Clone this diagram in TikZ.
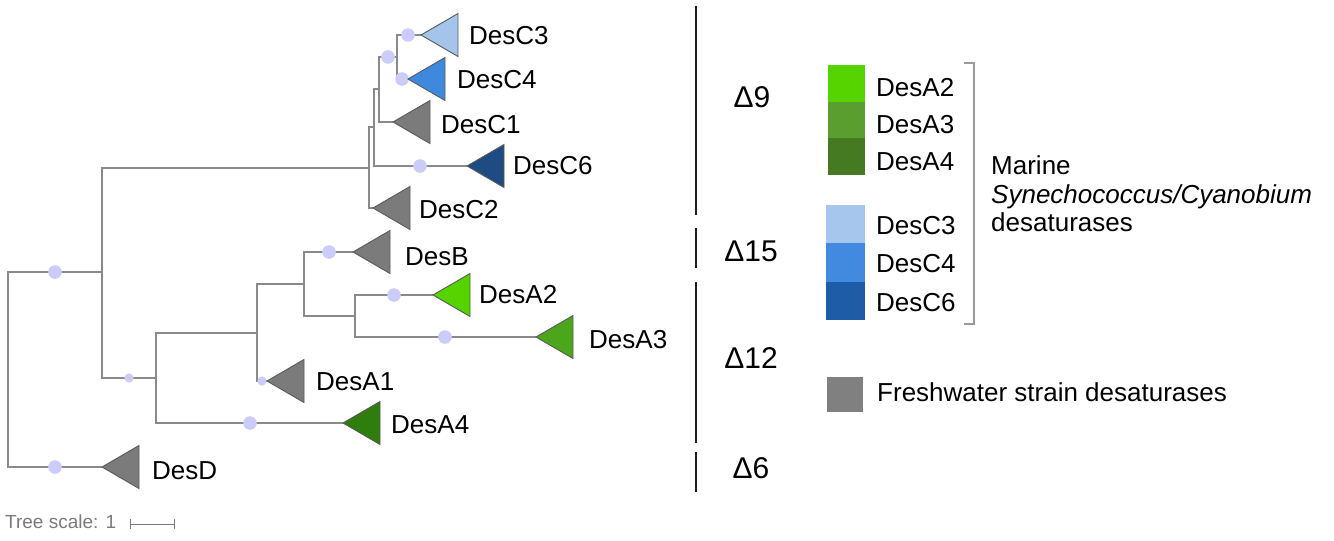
\documentclass[tikz,border=0pt]{standalone}
\usepackage{fontspec}
\setmainfont{Liberation Sans}
\definecolor{treegray}{HTML}{8A8A8A}
\definecolor{tridraw}{HTML}{5A5A5A}
\definecolor{cladegray}{HTML}{7B7B7B}
\definecolor{dotfill}{RGB}{204,204,250}
\definecolor{cthree}{HTML}{A4C4EC}
\definecolor{cfour}{HTML}{3E88DE}
\definecolor{csix}{HTML}{1D4B82}
\definecolor{atwo}{HTML}{55D400}
\definecolor{athree}{HTML}{4CA61C}
\definecolor{afour}{HTML}{2F7D0C}
\definecolor{legatwo}{HTML}{55D400}
\definecolor{legathree}{HTML}{5A9E2F}
\definecolor{legafour}{HTML}{467A22}
\definecolor{legcthree}{HTML}{A6C6EE}
\definecolor{legcfour}{HTML}{428AE0}
\definecolor{legcsix}{HTML}{1F5CA8}
\definecolor{leggray}{HTML}{808080}
\definecolor{bracketgray}{HTML}{9A9A9A}
\definecolor{scalegray}{HTML}{7A7A7A}
% collapsed clade: triangle with its tip on the named leaf point
\newcommand\cladetri[2]{%
  \filldraw[fill=#2, draw=tridraw, line width=0.9pt] (#1) -- ++(37,-21.5) -- ++(0,43) -- cycle;}
\begin{document}
\begin{tikzpicture}[x=1pt, y=-1pt,
  branch/.style={draw=treegray, line width=1.7pt},
  supdot/.style={fill=dotfill},
  lab/.style={anchor=west, inner sep=0pt, font=\fontsize{26}{30}\selectfont},
  dlab/.style={anchor=center, inner sep=0pt, font=\fontsize{30}{34}\selectfont},
  sepline/.style={draw=black!88, line width=2pt},
  legsq/.style={draw=none}]
\useasboundingbox (0,0) rectangle (1334,541);

% internal nodes of the tree
\coordinate (root) at (8,370);
\coordinate (n1) at (102,272);
\coordinate (n2) at (156,378);
\coordinate (n3) at (257,333);
\coordinate (n4) at (304,284);
\coordinate (n5) at (355,316);
\coordinate (nc) at (369,168);
\coordinate (n6) at (374,127);
\coordinate (n7) at (379,89);
\coordinate (n8) at (397,57);
% leaves (tips of the collapsed clades)
\coordinate (c3) at (421,35);
\coordinate (c4) at (408,79);
\coordinate (c1) at (393,122);
\coordinate (c6) at (467,166);
\coordinate (c2) at (373,208);
\coordinate (b)  at (353,252);
\coordinate (a2) at (433,295);
\coordinate (a3) at (536,337);
\coordinate (a1) at (267,381);
\coordinate (a4) at (343,423);
\coordinate (d)  at (102,467);

% branches
\draw[branch] (root) |- (n1);
\draw[branch] (root) |- (d);
\draw[branch] (n1) |- (nc);
\draw[branch] (n1) |- (n2);
\draw[branch] (n2) |- (n3);
\draw[branch] (n2) |- (a4);
\draw[branch] (n3) |- (n4);
\draw[branch] (n3) |- (a1);
\draw[branch] (n4) |- (b);
\draw[branch] (n4) |- (n5);
\draw[branch] (n5) |- (a2);
\draw[branch] (n5) |- (a3);
\draw[branch] (nc) |- (n6);
\draw[branch] (nc) |- (c2);
\draw[branch] (n6) |- (n7);
\draw[branch] (n6) |- (c6);
\draw[branch] (n7) |- (n8);
\draw[branch] (n7) |- (c1);
\draw[branch] (n8) |- (c3);
\draw[branch] (n8) |- (c4);

% support markers
\foreach \p in {(55,272),(55,467),(250,423),(329,252),(394,295),(445,337),(388,57),(408,35),(402,79),(420,166)}
  \fill[supdot] \p circle (6.8pt);
\foreach \p in {(129,378),(262,381)}
  \fill[supdot] \p circle (4.6pt);

% collapsed clades
\cladetri{c3}{cthree}
\cladetri{c4}{cfour}
\cladetri{c1}{cladegray}
\cladetri{c6}{csix}
\cladetri{c2}{cladegray}
\cladetri{b}{cladegray}
\cladetri{a2}{atwo}
\cladetri{a3}{athree}
\cladetri{a1}{cladegray}
\cladetri{a4}{afour}
\cladetri{d}{cladegray}

% clade labels
\node[lab] (lc3) at (469,36) {DesC3};
\node[lab] (lc4) at (457,80) {DesC4};
\node[lab] (lc1) at (441,125) {DesC1};
\node[lab] (lc6) at (513,166) {DesC6};
\node[lab] (lc2) at (419,210) {DesC2};
\node[lab] (lb)  at (405,257) {DesB};
\node[lab] (la2) at (479,295) {DesA2};
\node[lab] (la3) at (589,340) {DesA3};
\node[lab] (la1) at (316,382) {DesA1};
\node[lab] (la4) at (391,425) {DesA4};
\node[lab] (ld)  at (152,471) {DesD};

% desaturase position groups
\draw[sepline] (696,6) -- (696,215);
\draw[sepline] (696,228) -- (696,268);
\draw[sepline] (696,282) -- (696,443);
\draw[sepline] (696,452) -- (696,492);
\node[dlab] (d9)  at (752,97)  {Δ9};
\node[dlab] (d15) at (751,251) {Δ15};
\node[dlab] (d12) at (751,358) {Δ12};
\node[dlab] (d6)  at (751,468) {Δ6};

% legend
\fill[legatwo]   (828,65)  rectangle (865,102);
\fill[legathree] (828,102) rectangle (865,138);
\fill[legafour]  (828,138) rectangle (865,175);
\fill[legcthree] (826,205) rectangle (865,243);
\fill[legcfour]  (826,243) rectangle (865,282);
\fill[legcsix]   (826,282) rectangle (865,320);
\fill[leggray]   (827,377) rectangle (863,412);
\node[lab] (ka2) at (876,88)  {DesA2};
\node[lab] (ka3) at (876,125) {DesA3};
\node[lab] (ka4) at (876,162) {DesA4};
\node[lab] (kc3) at (876,226) {DesC3};
\node[lab] (kc4) at (876,264) {DesC4};
\node[lab] (kc6) at (876,303) {DesC6};
\node[lab] (kfw) at (877,392) {Freshwater strain desaturases};
\draw[draw=bracketgray, line width=1.5pt] (964,63) -- (974,63) -- (974,324) -- (964,324);
\node[lab, align=left, font=\fontsize{26}{28.5}\selectfont] (marine) at (991,194)
  {Marine\\\textit{Synechococcus/Cyanobium}\\desaturases};

% tree scale
\node[anchor=west, inner sep=0pt, text=scalegray, font=\fontsize{19}{22}\selectfont] (ts) at (5,522) {Tree scale: 1};
\coordinate (sb1) at (130,524);
\coordinate (sb2) at (174,524);
\draw[draw=scalegray, line width=1pt] (sb1) -- (sb2);
\draw[draw=scalegray, line width=1pt] ([yshift=-5pt]sb1) -- ([yshift=5pt]sb1);
\draw[draw=scalegray, line width=1pt] ([yshift=-5pt]sb2) -- ([yshift=5pt]sb2);
\end{tikzpicture}
\end{document}
